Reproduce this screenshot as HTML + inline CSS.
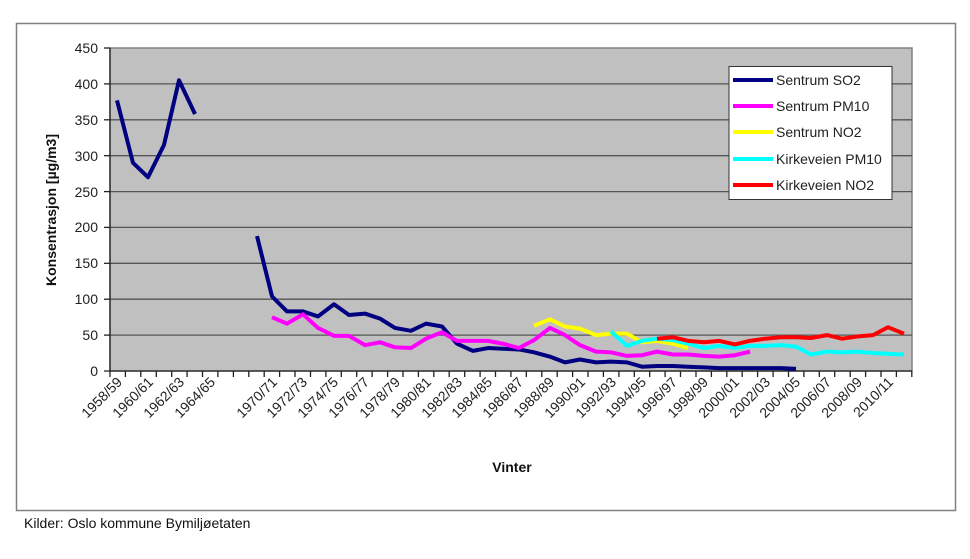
<!DOCTYPE html>
<html><head><meta charset="utf-8"><style>
body{margin:0;background:#fff;width:970px;height:554px;overflow:hidden;font-family:"Liberation Sans",Arial,sans-serif}
</style></head><body>
<svg width="970" height="554" viewBox="0 0 970 554" xmlns="http://www.w3.org/2000/svg" font-family="Liberation Sans, Arial, sans-serif">
<rect x="16.5" y="23.5" width="939" height="487" fill="#fff" stroke="#808080" stroke-width="1.5"/>
<rect x="110" y="48" width="802" height="323" fill="#c0c0c0" stroke="#808080" stroke-width="1.5"/>
<g stroke="#555" stroke-width="1.3">
<line x1="110" x2="912" y1="83.9" y2="83.9"/><line x1="110" x2="912" y1="119.8" y2="119.8"/>
<line x1="110" x2="912" y1="155.7" y2="155.7"/><line x1="110" x2="912" y1="191.6" y2="191.6"/>
<line x1="110" x2="912" y1="227.4" y2="227.4"/><line x1="110" x2="912" y1="263.3" y2="263.3"/>
<line x1="110" x2="912" y1="299.2" y2="299.2"/><line x1="110" x2="912" y1="335.1" y2="335.1"/>
</g>
<g stroke="#222" stroke-width="1.3">
<line x1="110" x2="110" y1="48" y2="371"/><line x1="104" x2="912" y1="371" y2="371"/>
<line x1="104" x2="110" y1="48" y2="48"/><line x1="104" x2="110" y1="83.9" y2="83.9"/><line x1="104" x2="110" y1="119.8" y2="119.8"/><line x1="104" x2="110" y1="155.7" y2="155.7"/><line x1="104" x2="110" y1="191.6" y2="191.6"/><line x1="104" x2="110" y1="227.4" y2="227.4"/><line x1="104" x2="110" y1="263.3" y2="263.3"/><line x1="104" x2="110" y1="299.2" y2="299.2"/><line x1="104" x2="110" y1="335.1" y2="335.1"/>
</g>
<path stroke="#222" stroke-width="1.3" d="M110 371v6M125.4 371v6M140.8 371v6M156.3 371v6M171.7 371v6M187.1 371v6M202.5 371v6M217.9 371v6M233.4 371v6M248.8 371v6M264.2 371v6M279.6 371v6M295 371v6M310.5 371v6M325.9 371v6M341.3 371v6M356.7 371v6M372.1 371v6M387.6 371v6M403 371v6M418.4 371v6M433.8 371v6M449.2 371v6M464.7 371v6M480.1 371v6M495.5 371v6M510.9 371v6M526.3 371v6M541.8 371v6M557.2 371v6M572.6 371v6M588 371v6M603.4 371v6M618.9 371v6M634.3 371v6M649.7 371v6M665.1 371v6M680.5 371v6M696 371v6M711.4 371v6M726.8 371v6M742.2 371v6M757.6 371v6M773.1 371v6M788.5 371v6M803.9 371v6M819.3 371v6M834.7 371v6M850.2 371v6M865.6 371v6M881 371v6M896.4 371v6M911.8 371v6"/>
<g font-size="14" fill="#222" text-anchor="end">
<text x="98" y="53">450</text><text x="98" y="89">400</text><text x="98" y="125">350</text><text x="98" y="161">300</text><text x="98" y="197">250</text><text x="98" y="232">200</text><text x="98" y="268">150</text><text x="98" y="304">100</text><text x="98" y="340">50</text><text x="98" y="376">0</text>
</g>
<text transform="translate(56,210) rotate(-90)" font-size="14" font-weight="bold" text-anchor="middle" fill="#111">Konsentrasjon [µg/m3]</text>
<text x="512" y="472" font-size="14" font-weight="bold" text-anchor="middle" fill="#111">Vinter</text>
<text x="24" y="528" font-size="14" fill="#111">Kilder: Oslo kommune Bymiljøetaten</text>
<g font-size="14" fill="#222" text-anchor="end">
<text transform="translate(123,383) rotate(-45)">1958/59</text>
<text transform="translate(154,383) rotate(-45)">1960/61</text>
<text transform="translate(185,383) rotate(-45)">1962/63</text>
<text transform="translate(216,383) rotate(-45)">1964/65</text>
<text transform="translate(278,383) rotate(-45)">1970/71</text>
<text transform="translate(308,383) rotate(-45)">1972/73</text>
<text transform="translate(339,383) rotate(-45)">1974/75</text>
<text transform="translate(370,383) rotate(-45)">1976/77</text>
<text transform="translate(401,383) rotate(-45)">1978/79</text>
<text transform="translate(432,383) rotate(-45)">1980/81</text>
<text transform="translate(463,383) rotate(-45)">1982/83</text>
<text transform="translate(493,383) rotate(-45)">1984/85</text>
<text transform="translate(524,383) rotate(-45)">1986/87</text>
<text transform="translate(555,383) rotate(-45)">1988/89</text>
<text transform="translate(586,383) rotate(-45)">1990/91</text>
<text transform="translate(617,383) rotate(-45)">1992/93</text>
<text transform="translate(647,383) rotate(-45)">1994/95</text>
<text transform="translate(678,383) rotate(-45)">1996/97</text>
<text transform="translate(709,383) rotate(-45)">1998/99</text>
<text transform="translate(740,383) rotate(-45)">2000/01</text>
<text transform="translate(771,383) rotate(-45)">2002/03</text>
<text transform="translate(801,383) rotate(-45)">2004/05</text>
<text transform="translate(832,383) rotate(-45)">2006/07</text>
<text transform="translate(863,383) rotate(-45)">2008/09</text>
<text transform="translate(894,383) rotate(-45)">2010/11</text>
</g>
<g transform="translate(0,371) scale(1,-0.7178)" fill="none" stroke-width="4" stroke-linejoin="round">
<polyline vector-effect="non-scaling-stroke" stroke="#000080" points="117,377 133,290 148,270 164,315 179,405 195,358"/>
<polyline vector-effect="non-scaling-stroke" stroke="#000080" points="257,188 272,104 287,83 303,83 318,76 334,93 349,78 365,80 380,73 395,60 411,56 426,66 442,62 457,38 473,28 488,32 503,31 519,30 534,26 550,20 565,12 580,16 596,12 611,13 627,12 642,6 657,7 673,7 688,6 704,5 719,4 735,4 750,4 765,4 781,4 796,3"/>
<polyline vector-effect="non-scaling-stroke" stroke="#ff00ff" points="272,75 287,66 303,79 318,60 334,49 349,49 365,36 380,40 395,33 411,32 426,45 442,54 457,42 473,42 488,42 503,38 519,32 534,43 550,60 565,50 580,36 596,27 611,26 627,21 642,22 657,27 673,23 688,23 704,21 719,20 735,22 750,27"/>
<polyline vector-effect="non-scaling-stroke" stroke="#ffff00" points="534,63 550,72 565,62 580,59 596,50 611,52 627,52 642,40 657,42 673,38 688,32"/>
<polyline vector-effect="non-scaling-stroke" stroke="#00ffff" points="611,55 627,35 642,42 657,45 673,43 688,38 704,32 719,35 735,32 750,35 765,35 781,36 796,34 811,23 827,27 842,26 857,27 873,25 888,24 904,23"/>
<polyline vector-effect="non-scaling-stroke" stroke="#ff0000" points="657,45 673,47 688,42 704,40 719,42 735,37 750,42 765,45 781,47 796,47 811,46 827,50 842,45 857,48 873,50 888,61 904,52"/>
</g>
<rect x="729" y="66.5" width="163" height="133" fill="#fff" stroke="#333" stroke-width="1"/>
<g stroke-width="4">
<line x1="733" x2="773" y1="80" y2="80" stroke="#000080"/>
<line x1="733" x2="773" y1="106" y2="106" stroke="#ff00ff"/>
<line x1="733" x2="773" y1="132" y2="132" stroke="#ffff00"/>
<line x1="733" x2="773" y1="159" y2="159" stroke="#00ffff"/>
<line x1="733" x2="773" y1="185" y2="185" stroke="#ff0000"/>
</g>
<g font-size="14" fill="#222">
<text x="776" y="85">Sentrum SO2</text>
<text x="776" y="111">Sentrum PM10</text>
<text x="776" y="137">Sentrum NO2</text>
<text x="776" y="164">Kirkeveien PM10</text>
<text x="776" y="190">Kirkeveien NO2</text>
</g>
</svg>
</body></html>
